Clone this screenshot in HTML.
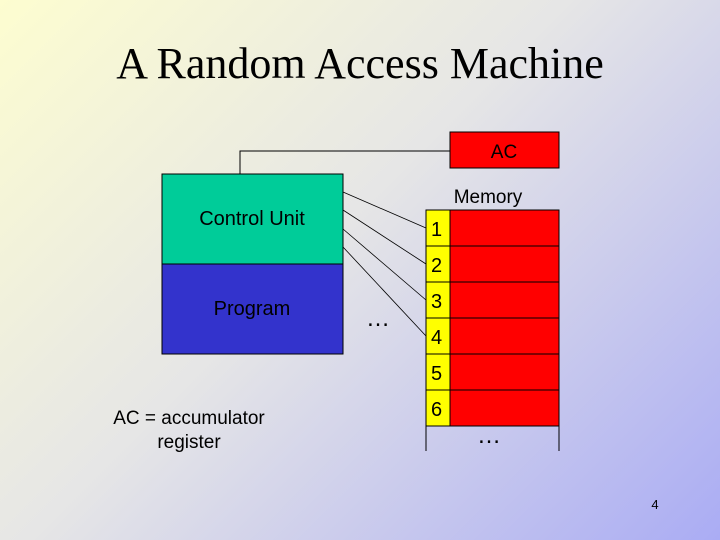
<!DOCTYPE html>
<html><head><style>
body{margin:0}
.p{position:relative;width:720px;height:540px;overflow:hidden;background:linear-gradient(135deg,#fdfdd0 0%,#e6e6e6 45%,#aaacf4 100%);font-family:"Liberation Sans",sans-serif}
.t{position:absolute}
</style></head><body><div class="p">
<div class="t" style="left:0;width:720px;top:38px;text-align:center;font-family:'Liberation Serif',serif;font-size:44px;color:#000">A Random Access Machine</div>
<svg class="t" style="left:0;top:0" width="720" height="540">
<polyline points="450,151 240,151 240,174" fill="none" stroke="#000" stroke-width="1"/>
<rect x="450" y="132" width="109" height="36" fill="#f00" stroke="#000"/>
<rect x="162" y="174" width="181" height="90" fill="#00cc99" stroke="#000"/>
<rect x="162" y="264" width="181" height="90" fill="#3333cc" stroke="#000"/>
<g stroke="#000" stroke-width="0.8">
<line x1="343" y1="192" x2="426" y2="228"/>
<line x1="343" y1="210" x2="426" y2="264"/>
<line x1="343" y1="229" x2="426" y2="300"/>
<line x1="343" y1="247" x2="426" y2="336"/>
</g>
<g stroke="#000">
<rect x="426" y="210" width="24" height="36" fill="#ff0"/><rect x="450" y="210" width="109" height="36" fill="#f00"/>
<rect x="426" y="246" width="24" height="36" fill="#ff0"/><rect x="450" y="246" width="109" height="36" fill="#f00"/>
<rect x="426" y="282" width="24" height="36" fill="#ff0"/><rect x="450" y="282" width="109" height="36" fill="#f00"/>
<rect x="426" y="318" width="24" height="36" fill="#ff0"/><rect x="450" y="318" width="109" height="36" fill="#f00"/>
<rect x="426" y="354" width="24" height="36" fill="#ff0"/><rect x="450" y="354" width="109" height="36" fill="#f00"/>
<rect x="426" y="390" width="24" height="36" fill="#ff0"/><rect x="450" y="390" width="109" height="36" fill="#f00"/>
<line x1="426" y1="426" x2="426" y2="451"/><line x1="559" y1="426" x2="559" y2="451"/>
</g>
<g font-family="Liberation Sans,sans-serif" font-size="20" fill="#000">
<text x="504" y="158" text-anchor="middle" font-size="19">AC</text>
<text x="488" y="203" text-anchor="middle" font-size="19">Memory</text>
<text x="252" y="225" text-anchor="middle">Control Unit</text>
<text x="252" y="315" text-anchor="middle">Program</text>
<text x="431" y="236">1</text><text x="431" y="272">2</text><text x="431" y="308">3</text>
<text x="431" y="344">4</text><text x="431" y="380">5</text><text x="431" y="416">6</text>
<text x="189" y="424" text-anchor="middle" font-size="19">AC = accumulator</text>
<text x="189" y="448" text-anchor="middle" font-size="19">register</text>
<text x="378" y="326" text-anchor="middle" font-size="24">…</text>
<text x="489" y="443" text-anchor="middle" font-size="24">…</text>
<text x="655" y="509" text-anchor="middle" font-size="13">4</text>
</g>
</svg>
</div></body></html>
